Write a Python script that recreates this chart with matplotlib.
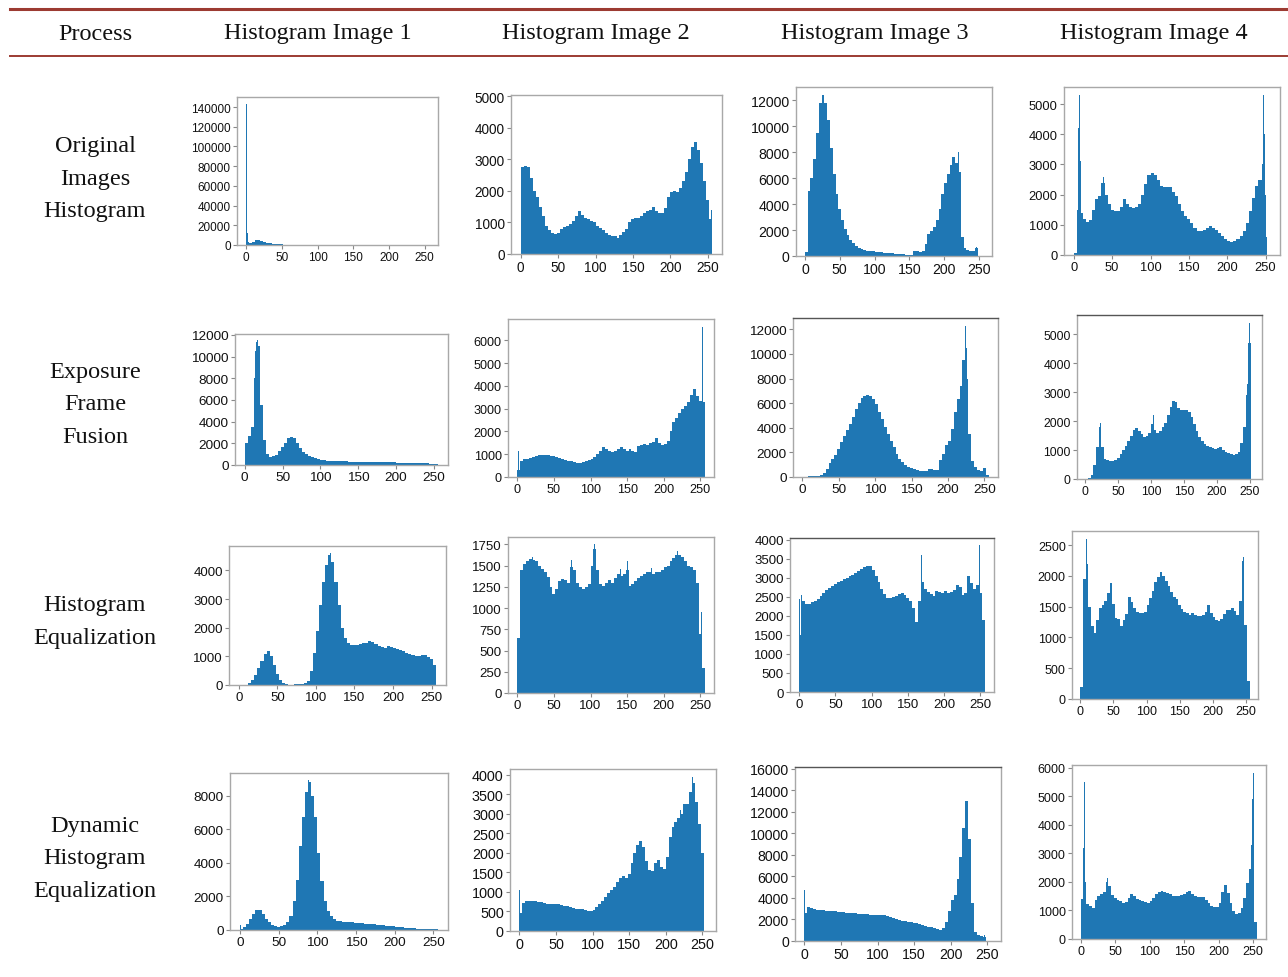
"""Table of grey-level histograms: four processes x four images."""

import matplotlib
matplotlib.use("Agg")
import matplotlib.pyplot as plt
import numpy as np
from matplotlib.lines import Line2D
from matplotlib.ticker import MultipleLocator

W, H = 1288, 978
BAR_COLOR = "#1f77b4"
RULE_COLOR = "#9c3b32"

PROCESSES = ["Original\nImages\nHistogram", "Exposure\nFrame\nFusion",
             "Histogram\nEqualization", "Dynamic\nHistogram\nEqualization"]
COLUMNS = ["Process", "Histogram Image 1", "Histogram Image 2",
           "Histogram Image 3", "Histogram Image 4"]

# counts per grey level, binned by 4 (bins start at 0, 4, ..., 252)
BIN_EDGES = np.arange(0, 260, 4)

orig_1 = [3000, 2500, 3500, 5000, 5500, 4500, 3500, 2500,
          1800, 1300, 1000, 800, 600, 500, 450, 400,
          380, 350, 320, 300, 280, 260, 240, 220,
          200, 180, 150, 120, 100, 80, 60, 50,
          40, 35, 30, 30, 25, 25, 20, 20,
          20, 20, 15, 15, 15, 15, 10, 10,
          10, 10, 10, 10, 10, 10, 10, 10,
          10, 10, 10, 10, 10, 10, 10, 10]
orig_2 = [2750, 2800, 2750, 2400, 2000, 1800, 1500, 1200,
          900, 750, 650, 620, 680, 800, 850, 880,
          950, 1050, 1200, 1350, 1250, 1150, 1100, 1050,
          1000, 900, 820, 750, 650, 600, 580, 560,
          520, 600, 700, 800, 1000, 1100, 1150, 1150,
          1200, 1300, 1350, 1400, 1500, 1350, 1300, 1300,
          1450, 1800, 1950, 2000, 1950, 2100, 2300, 2600,
          3000, 3400, 3550, 3300, 2900, 2300, 1700, 1100]
orig_3 = [300, 5000, 6000, 7500, 9500, 11800, 12400, 11800,
          10500, 8300, 6300, 4800, 3600, 2800, 2100, 1600,
          1250, 1000, 800, 650, 550, 480, 420, 380,
          350, 320, 300, 280, 260, 240, 220, 200,
          180, 160, 140, 120, 110, 100, 90, 400,
          350, 300, 350, 900, 1700, 1900, 2200, 2800,
          3600, 4800, 5600, 6300, 7000, 7600, 7200, 6500,
          1500, 600, 450, 400, 400, 600, 0, 0]
orig_4 = [50, 1500, 1400, 1200, 1100, 1150, 1500, 1850,
          1950, 2400, 2000, 1700, 1500, 1450, 1450, 1600,
          1850, 1700, 1600, 1550, 1600, 1700, 2000, 2350,
          2650, 2700, 2650, 2500, 2300, 2250, 2250, 2250,
          2100, 1950, 1700, 1450, 1300, 1200, 1050, 900,
          800, 800, 820, 880, 950, 900, 820, 720,
          620, 540, 480, 430, 450, 520, 640, 800,
          1050, 1450, 1900, 2300, 2500, 2500, 600, 0]

fusion_1 = [2000, 2700, 3500, 8000, 11000, 5500, 2300, 1000,
            780, 800, 950, 1250, 1650, 2050, 2450, 2600,
            2450, 2000, 1550, 1200, 1000, 850, 700, 600,
            540, 480, 440, 410, 390, 370, 360, 350,
            340, 330, 320, 310, 300, 300, 290, 280,
            280, 270, 270, 260, 260, 250, 250, 250,
            240, 240, 230, 230, 220, 220, 210, 210,
            200, 200, 190, 180, 150, 120, 80, 50]
fusion_2 = [300, 700, 780, 800, 820, 860, 900, 950,
            980, 970, 950, 930, 900, 880, 850, 800,
            760, 720, 680, 650, 620, 600, 650, 700,
            740, 800, 880, 1000, 1150, 1300, 1250, 1150,
            1100, 1150, 1250, 1300, 1250, 1150, 1250, 1150,
            1100, 1350, 1400, 1450, 1400, 1500, 1550, 1700,
            1500, 1400, 1450, 1600, 2000, 2400, 2600, 2800,
            3000, 3100, 3300, 3600, 3850, 3550, 3350, 3300]
fusion_3 = [30, 40, 50, 60, 80, 120, 200, 350,
            650, 1100, 1500, 1750, 2300, 2850, 3350, 3800,
            4300, 4900, 5500, 6000, 6400, 6600, 6700, 6600,
            6300, 5900, 5300, 4700, 4100, 3500, 2900, 2400,
            1900, 1500, 1200, 1000, 850, 720, 650, 580,
            520, 470, 500, 640, 620, 560, 580, 1400,
            1900, 2600, 2900, 3900, 5300, 6300, 7400, 9500,
            8000, 3500, 1300, 800, 600, 500, 700, 150]
fusion_4 = [0, 20, 150, 500, 1100, 1800, 1100, 700,
            640, 610, 620, 660, 740, 850, 1000, 1150,
            1300, 1500, 1700, 1780, 1650, 1550, 1450, 1480,
            1600, 1900, 1700, 1600, 1650, 1800, 1950, 2200,
            2500, 2700, 2650, 2450, 2400, 2400, 2400, 2300,
            2150, 1900, 1650, 1450, 1300, 1200, 1150, 1100,
            1080, 1050, 1060, 1100, 1000, 950, 900, 860,
            820, 850, 950, 1250, 1800, 2900, 4700, 0]

he_1 = [0, 0, 10, 60, 170, 350, 600, 850,
        1080, 1180, 1000, 700, 380, 160, 60, 25,
        15, 15, 20, 30, 50, 80, 150, 500,
        1100, 1900, 2800, 3600, 4200, 4550, 4300, 3600,
        2800, 2000, 1650, 1450, 1400, 1380, 1400, 1420,
        1450, 1480, 1520, 1500, 1420, 1350, 1320, 1300,
        1350, 1330, 1300, 1270, 1220, 1170, 1120, 1080,
        1040, 1000, 1020, 1050, 1050, 980, 900, 700]
he_2 = [650, 1450, 1520, 1560, 1580, 1570, 1550, 1500,
        1460, 1420, 1370, 1250, 1170, 1230, 1320, 1340,
        1330, 1300, 1480, 1450, 1300, 1250, 1230, 1250,
        1280, 1500, 1700, 1450, 1280, 1260, 1300, 1330,
        1300, 1350, 1400, 1380, 1400, 1450, 1260, 1280,
        1320, 1350, 1380, 1400, 1420, 1430, 1400, 1420,
        1420, 1450, 1480, 1500, 1550, 1590, 1620, 1630,
        1600, 1560, 1500, 1480, 1450, 1300, 700, 300]
he_3 = [1500, 2400, 2300, 2320, 2350, 2380, 2450, 2520,
        2600, 2680, 2740, 2790, 2840, 2880, 2920, 2960,
        3000, 3040, 3080, 3130, 3180, 3230, 3280, 3320,
        3300, 3200, 3050, 2880, 2700, 2560, 2480, 2470,
        2490, 2520, 2560, 2590, 2550, 2480, 2380, 2200,
        1850, 2400, 2900, 2700, 2620, 2580, 2520, 2650,
        2620, 2600, 2640, 2600, 2620, 2680, 2820, 2750,
        2550, 2600, 3050, 2850, 2700, 2800, 2600, 1900]
he_4 = [200, 1950, 2200, 1500, 1180, 1080, 1280, 1480,
        1530, 1600, 1720, 1880, 1550, 1320, 1300, 1180,
        1280, 1380, 1650, 1580, 1480, 1420, 1400, 1390,
        1420, 1520, 1640, 1760, 1900, 1990, 2060, 2000,
        1920, 1840, 1740, 1660, 1630, 1530, 1470, 1420,
        1390, 1360, 1390, 1370, 1350, 1350, 1360, 1420,
        1530, 1400, 1340, 1290, 1260, 1300, 1380, 1440,
        1450, 1480, 1430, 1370, 1600, 2250, 1200, 300]

dhe_1 = [80, 180, 380, 650, 950, 1220, 1180, 950,
         680, 450, 320, 240, 200, 210, 290, 470,
         850, 1700, 3000, 5000, 6700, 8200, 8800, 8000,
         6700, 4600, 2900, 1700, 1150, 850, 650, 560,
         510, 490, 480, 470, 450, 430, 410, 400,
         385, 370, 355, 340, 320, 300, 280, 255,
         235, 210, 190, 170, 150, 135, 120, 105,
         95, 85, 75, 65, 60, 55, 50, 40]
dhe_2 = [450, 720, 770, 780, 780, 770, 750, 730,
         710, 700, 690, 700, 700, 690, 670, 650,
         630, 610, 590, 575, 565, 565, 550, 520,
         510, 550, 610, 680, 770, 880, 980, 1060,
         1130, 1250, 1360, 1400, 1360, 1450, 1750, 2000,
         2200, 2300, 2150, 1800, 1560, 1530, 1750, 1820,
         1650, 1600, 1900, 2400, 2650, 2800, 2900, 3000,
         3250, 3250, 3550, 3800, 3300, 2750, 2000, 0]
dhe_3 = [2600, 3200, 3050, 2950, 2900, 2880, 2850, 2820,
         2800, 2780, 2760, 2730, 2680, 2650, 2620, 2600,
         2580, 2560, 2540, 2520, 2500, 2480, 2460, 2450,
         2450, 2450, 2440, 2400, 2330, 2220, 2120, 2030,
         1960, 1900, 1840, 1790, 1740, 1700, 1640, 1570,
         1500, 1400, 1320, 1260, 1200, 1150, 1060, 1200,
         1800, 2800, 3800, 4300, 5800, 7800, 10500, 13000,
         9500, 3500, 800, 550, 420, 400, 0, 0]
dhe_4 = [1400, 1600, 1220, 1150, 1080, 1350, 1520, 1580,
         1650, 2000, 1850, 1550, 1420, 1380, 1320, 1260,
         1300, 1450, 1580, 1500, 1400, 1360, 1320, 1280,
         1260, 1320, 1420, 1560, 1660, 1680, 1640, 1600,
         1560, 1520, 1500, 1500, 1540, 1580, 1630, 1680,
         1560, 1500, 1460, 1480, 1460, 1360, 1260, 1170,
         1110, 1120, 1250, 1650, 1900, 1600, 1250, 980,
         860, 900, 1080, 1450, 1950, 2450, 3500, 600]

# single grey levels that stand out above their bin: (level, count)
orig_1_spikes = [(0, 143000), (1, 12000)]
orig_2_spikes = [(0, 4800), (254, 1400)]
orig_3_spikes = [(215, 7900), (220, 8050), (246, 700)]
orig_4_spikes = [(6, 4200), (7, 5300), (8, 3100), (38, 2600), (245, 3000),
                 (246, 4000), (247, 5300), (248, 4000), (249, 2000)]
fusion_1_spikes = [(0, 6000), (14, 10500), (15, 11300), (16, 11500)]
fusion_2_spikes = [(1, 1150), (253, 6600)]
fusion_3_spikes = [(224, 12300), (225, 10500), (249, 1100)]
fusion_4_spikes = [(22, 1950), (103, 2200), (246, 3300), (247, 4000), (249, 5400)]
he_1_spikes = [(118, 4620), (254, 1700)]
he_2_spikes = [(20, 1600), (74, 1570), (105, 1750), (140, 1460), (150, 1560),
               (183, 1470), (218, 1670), (251, 950)]
he_3_spikes = [(0, 2450), (3, 2550), (166, 3100), (168, 3600), (248, 3850)]
he_4_spikes = [(9, 2600), (123, 2100), (246, 2300)]
dhe_1_spikes = [(0, 300), (88, 8900)]
dhe_2_spikes = [(0, 1050), (215, 3100), (220, 3100), (236, 3950)]
dhe_3_spikes = [(0, 4700), (222, 15400), (246, 600)]
dhe_4_spikes = [(3, 3200), (4, 4200), (5, 5500), (6, 2000), (38, 2150),
                (247, 3300), (249, 4900), (250, 5800)]

HISTS = [
    [(orig_1, orig_1_spikes), (orig_2, orig_2_spikes),
     (orig_3, orig_3_spikes), (orig_4, orig_4_spikes)],
    [(fusion_1, fusion_1_spikes), (fusion_2, fusion_2_spikes),
     (fusion_3, fusion_3_spikes), (fusion_4, fusion_4_spikes)],
    [(he_1, he_1_spikes), (he_2, he_2_spikes),
     (he_3, he_3_spikes), (he_4, he_4_spikes)],
    [(dhe_1, dhe_1_spikes), (dhe_2, dhe_2_spikes),
     (dhe_3, dhe_3_spikes), (dhe_4, dhe_4_spikes)],
]

Y_STEPS = [[20000, 1000, 2000, 1000],
           [2000, 1000, 2000, 1000],
           [1000, 250, 500, 500],
           [2000, 500, 2000, 1000]]

# axes boxes in pixels (left, top, right, bottom)
BOXES = [
    [(237, 98, 438, 246), (511, 96, 722, 255), (796, 88, 992, 257), (1064, 88, 1280, 256)],
    [(235, 335, 448, 466), (508, 320, 714, 478), (793, 319, 998, 478), (1077, 316, 1262, 480)],
    [(229, 547, 446, 686), (508, 538, 714, 694), (790, 539, 994, 693), (1072, 532, 1258, 700)],
    [(230, 774, 448, 931), (510, 770, 716, 932), (795, 768, 1001, 942), (1072, 766, 1266, 940)],
]
TICK_SIZES = [[8.5, 9.8, 10.2, 9.3],
              [9.7, 9.1, 9.7, 8.8],
              [9.5, 9.5, 9.5, 9.0],
              [9.7, 10.4, 10.2, 9.0]]
DARK_TOP = {(1, 2), (1, 3), (2, 2), (3, 2)}

ROW_Y = [179, 405, 622, 859]
COL_X = [95, 318, 596, 875, 1154]
SERIF = "Liberation Serif"


def draw_hist(ax, values, spikes, tick_size, ystep, dark_top):
    ax.stairs(values, BIN_EDGES, fill=True, color=BAR_COLOR, linewidth=0)
    lv = [p for p, _ in spikes]
    hv = [h for _, h in spikes]
    ax.bar(lv, hv, width=1, align="edge", color=BAR_COLOR, linewidth=0)
    ax.xaxis.set_major_locator(MultipleLocator(50))
    ax.yaxis.set_major_locator(MultipleLocator(ystep))
    for sp in ax.spines.values():
        sp.set_color("#a8a8a8")
        sp.set_linewidth(1.0)
    if dark_top:
        ax.spines["top"].set_color("#555555")
    ax.tick_params(direction="out", length=3, width=0.8, color="#888888",
                   labelcolor="#111111", labelsize=tick_size, pad=1.5)
    for lab in ax.get_xticklabels() + ax.get_yticklabels():
        lab.set_fontfamily("Liberation Sans")


def main():
    fig = plt.figure(figsize=(W / 100, H / 100), dpi=100)
    fig.patch.set_facecolor("white")

    # table rules
    for y, lw in [(10, 2.2), (57, 1.4)]:
        fig.add_artist(Line2D([10 / W, 1.0], [1 - y / H] * 2, transform=fig.transFigure,
                              color=RULE_COLOR, linewidth=lw))

    for x, name in zip(COL_X, COLUMNS):
        fig.text(x / W, 1 - 34 / H, name, ha="center", va="center",
                 fontsize=17.5, family=SERIF, color="#111111")

    for y, name in zip(ROW_Y, PROCESSES):
        fig.text(95 / W, 1 - y / H, name, ha="center", va="center",
                 fontsize=17.5, family=SERIF, color="#111111", linespacing=1.74)

    for r in range(4):
        for c in range(4):
            x0, y0, x1, y1 = BOXES[r][c]
            ax = fig.add_axes([x0 / W, 1 - y1 / H, (x1 - x0) / W, (y1 - y0) / H])
            values, spikes = HISTS[r][c]
            draw_hist(ax, values, spikes, TICK_SIZES[r][c], Y_STEPS[r][c],
                      (r, c) in DARK_TOP)

    fig.savefig("out.png", dpi=100)
    plt.close(fig)


if __name__ == "__main__":
    main()
